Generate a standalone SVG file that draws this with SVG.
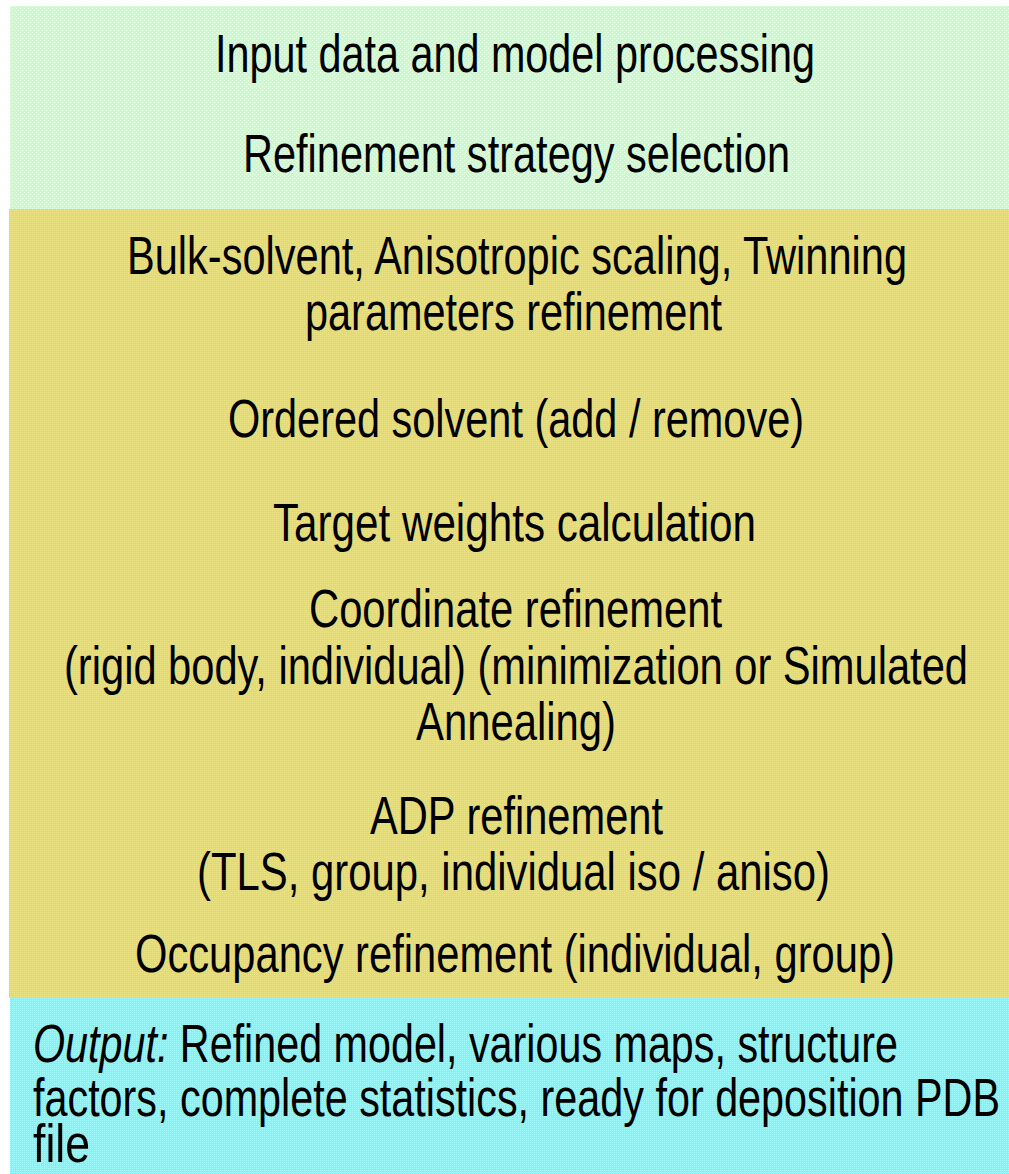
<svg xmlns="http://www.w3.org/2000/svg" width="1009" height="1174" viewBox="0 0 1009 1174">
<style>
  .t { font-family: "Liberation Sans", Arial, sans-serif; font-size: 54px; fill: #000; }
  .i { font-style: italic; }
</style>
<defs>
  <pattern id="pg" width="4" height="4" patternUnits="userSpaceOnUse">
    <rect width="4" height="4" fill="#c8fcc8"/>
    <rect width="1" height="1" fill="#eefeee"/>
    <rect x="2" y="2" width="1" height="1" fill="#eefeee"/>
  </pattern>
  <pattern id="py" width="2" height="2" patternUnits="userSpaceOnUse">
    <rect width="2" height="2" fill="#e4dc66"/>
    <rect width="1" height="1" fill="#ece484"/>
  </pattern>
  <pattern id="pc" width="2" height="2" patternUnits="userSpaceOnUse">
    <rect width="2" height="2" fill="#74f8f8"/>
    <rect width="1" height="1" fill="#a0fcfc"/>
  </pattern>
</defs>
<rect width="1009" height="1174" fill="#ffffff"/>
<g id="connectors"></g>
<g id="input">
  <rect x="10" y="6" width="999" height="203" fill="url(#pg)"/>
  <text class="t" x="215" y="72" textLength="600" lengthAdjust="spacingAndGlyphs">Input data and model processing</text>
  <text class="t" x="243" y="172" textLength="547" lengthAdjust="spacingAndGlyphs">Refinement strategy selection</text>
</g>
<g id="refinement">
  <rect x="9" y="209" width="1000" height="789" fill="url(#py)"/>
  <text class="t" x="127" y="274" textLength="780" lengthAdjust="spacingAndGlyphs">Bulk-solvent, Anisotropic scaling, Twinning</text>
  <text class="t" x="305" y="330" textLength="417" lengthAdjust="spacingAndGlyphs">parameters refinement</text>
  <text class="t" x="228" y="437" textLength="576" lengthAdjust="spacingAndGlyphs">Ordered solvent (add / remove)</text>
  <text class="t" x="273" y="541" textLength="483" lengthAdjust="spacingAndGlyphs">Target weights calculation</text>
  <text class="t" x="309" y="627" textLength="413" lengthAdjust="spacingAndGlyphs">Coordinate refinement</text>
  <text class="t" x="64" y="684" textLength="904" lengthAdjust="spacingAndGlyphs">(rigid body, individual) (minimization or Simulated</text>
  <text class="t" x="416" y="740" textLength="200" lengthAdjust="spacingAndGlyphs">Annealing)</text>
  <text class="t" x="370" y="834" textLength="293" lengthAdjust="spacingAndGlyphs">ADP refinement</text>
  <text class="t" x="197" y="890" textLength="633" lengthAdjust="spacingAndGlyphs">(TLS, group, individual iso / aniso)</text>
  <text class="t" x="135" y="972" textLength="760" lengthAdjust="spacingAndGlyphs">Occupancy refinement (individual, group)</text>
</g>
<g id="output">
  <rect x="10" y="998" width="999" height="176" fill="url(#pc)"/>
  <text class="t" x="33" y="1062" textLength="865" lengthAdjust="spacingAndGlyphs"><tspan class="i">Output:</tspan> Refined model, various maps, structure</text>
  <text class="t" x="33" y="1116" textLength="967" lengthAdjust="spacingAndGlyphs">factors, complete statistics, ready for deposition PDB</text>
  <text class="t" x="33" y="1162" textLength="57" lengthAdjust="spacingAndGlyphs">file</text>
</g>
</svg>
